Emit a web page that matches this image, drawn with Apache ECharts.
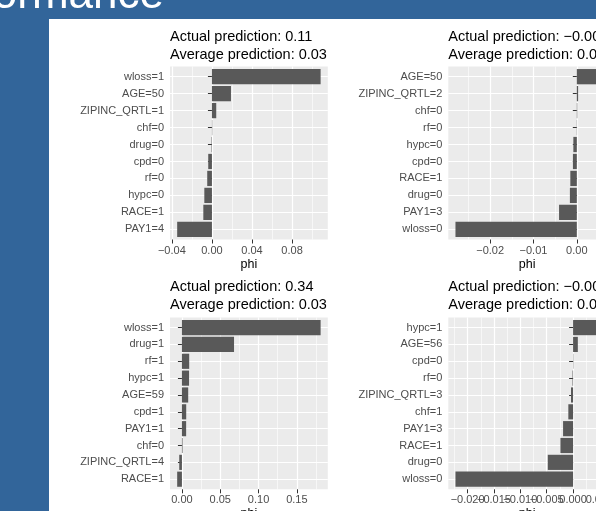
<!DOCTYPE html>
<html><head><meta charset="utf-8">
<script src="https://cdn.jsdelivr.net/npm/echarts@6/dist/echarts.min.js"></script>
<style>html,body{margin:0;padding:0;background:#32659A;}#c{width:596px;height:511px;}</style>
</head><body><div id="c"></div>
<script>
// ---- data ----
const titles1 = ['Actual prediction: 0.11', 'Average prediction: 0.03'];
const cats1 = ['wloss=1','AGE=50','ZIPINC_QRTL=1','chf=0','drug=0','cpd=0','rf=0','hypc=0','RACE=1','PAY1=4'];
const vals1 = [0.1085, 0.019, 0.0043, 0.0003, -0.0004, -0.0037, -0.0047, -0.0076, -0.0086, -0.0347];
const ticks1 = ['\u22120.04','0.00','0.04','0.08'];

const titles2 = ['Actual prediction: \u22120.00', 'Average prediction: 0.03'];
const cats2 = ['AGE=50','ZIPINC_QRTL=2','chf=0','rf=0','hypc=0','cpd=0','RACE=1','drug=0','PAY1=3','wloss=0'];
const vals2 = [0.0051, 0.0003, 0.0001, 0.00005, -0.0008, -0.0009, -0.0015, -0.0016, -0.0041, -0.0280];
const ticks2 = ['\u22120.02','\u22120.01','0.00'];

const titles3 = ['Actual prediction: 0.34', 'Average prediction: 0.03'];
const cats3 = ['wloss=1','drug=1','rf=1','hypc=1','AGE=59','cpd=1','PAY1=1','chf=0','ZIPINC_QRTL=4','RACE=1'];
const vals3 = [0.181, 0.068, 0.0095, 0.0093, 0.0082, 0.0056, 0.0055, 0.0008, -0.0035, -0.0062];
const ticks3 = ['0.00','0.05','0.10','0.15'];

const titles4 = ['Actual prediction: \u22120.00', 'Average prediction: 0.03'];
const cats4 = ['hypc=1','AGE=56','cpd=0','rf=0','ZIPINC_QRTL=3','chf=1','PAY1=3','RACE=1','drug=0','wloss=0'];
const vals4 = [0.0049, 0.0009, 0.00005, -0.0001, -0.0004, -0.0009, -0.0019, -0.0024, -0.0048, -0.0223];
const ticks4 = ['\u22120.020','\u22120.015','\u22120.010','\u22120.005','0.000','0.005'];

const xName = 'phi';
const slideTitle = 'Performance';

// ---- layout ----
const FONT = "'Liberation Sans', Arial, Helvetica, sans-serif";
const colLeft = [170, 448.3];
const panelW = 157.8;
const rows = [{top: 66.5, bottom: 239.5, titleTop: 28.6}, {top: 317.5, bottom: 489.3, titleTop: 278.8}];
const BAR = '#595959', PANEL = '#EBEBEB', AXTXT = '#4D4D4D';

const option = {
  animation: false,
  backgroundColor: '#32659A',
  title: [], grid: [], xAxis: [], yAxis: [], series: [],
  graphic: [
    {type: 'rect', shape: {x: 49, y: 19, width: 547, height: 492}, style: {fill: '#ffffff'}, z: -10, silent: true},
    {type: 'text', x: 164, y: -4.3, z: -9, silent: true,
     style: {text: slideTitle, fill: '#ffffff', font: '44px ' + FONT, align: 'right', verticalAlign: 'middle'}}
  ]
};

function num(s) { return parseFloat(s.replace('\u2212', '-')); }
function r(v) { return +v.toFixed(10); }

function addPanel(titles, cats, vals, ticks, col, row) {
  const L = colLeft[col], R = rows[row];
  const H = R.bottom - R.top;
  const band = H / (cats.length + 0.2);
  const lo = Math.min(0, ...vals), hi = Math.max(0, ...vals);
  const pad = 0.05 * (hi - lo);
  const xmin = lo - pad, xmax = hi + pad;
  const px = v => L + (v - xmin) / (xmax - xmin) * panelW;
  const tv = ticks.map(num);
  const step = r(tv[1] - tv[0]);
  const mstep = r(step / 2);
  const mfirst = r(Math.ceil(xmin / mstep - 1e-9) * mstep);
  const mlast = r(Math.floor(xmax / mstep + 1e-9) * mstep);

  option.title.push({
    text: titles.join('\n'), left: L, top: R.titleTop, padding: 0,
    textStyle: {fontSize: 14.5, fontWeight: 'normal', color: '#000', fontFamily: FONT, lineHeight: 17.3}
  });

  const gBase = option.grid.length;
  // A: panel background + axis name
  option.grid.push({left: L, top: R.top, width: panelW, height: H, show: true, backgroundColor: PANEL, borderWidth: 0, containLabel: false, outerBoundsMode: 'none'});
  // C: minor vertical grid lines
  option.grid.push({left: px(mfirst), top: R.top, width: px(mlast) - px(mfirst), height: H, containLabel: false, outerBoundsMode: 'none'});
  // D: major vertical grid lines, ticks and labels (tick labels as points)
  option.grid.push({left: px(tv[0]), top: R.top, width: px(tv[tv.length - 1]) - px(tv[0]), height: H, containLabel: false, outerBoundsMode: 'none'});
  // B: data, categories at band centres
  option.grid.push({left: L, top: R.top + 0.6 * band, width: panelW, height: band * (cats.length - 1), containLabel: false, outerBoundsMode: 'none'});

  const hiddenY = gi => ({type: 'value', gridIndex: gi, show: false});
  const xa = option.xAxis, ya = option.yAxis;

  xa.push({type: 'value', gridIndex: gBase, min: xmin, max: xmax, show: true,
    axisLine: {show: false}, axisTick: {show: false}, axisLabel: {show: false}, splitLine: {show: false},
    name: xName, nameLocation: 'middle', nameGap: 18.2,
    nameTextStyle: {fontSize: 12.5, color: '#000', fontFamily: FONT}});
  ya.push(hiddenY(gBase));

  xa.push({type: 'value', gridIndex: gBase + 1, min: mfirst, max: mlast, interval: mstep, show: true,
    axisLine: {show: false}, axisTick: {show: false}, axisLabel: {show: false},
    splitLine: {show: true, lineStyle: {color: '#ffffff', width: 0.6}}});
  ya.push(hiddenY(gBase + 1));

  xa.push({type: 'category', gridIndex: gBase + 2, data: ticks, boundaryGap: false, show: true,
    axisLine: {show: false},
    axisTick: {show: true, length: 4, interval: 0, lineStyle: {color: '#333333', width: 1}},
    axisLabel: {show: true, interval: 0, margin: 5.5, fontSize: 11, color: AXTXT, fontFamily: FONT,
      showMinLabel: true, showMaxLabel: true, hideOverlap: false},
    splitLine: {show: true, interval: 0, lineStyle: {color: '#ffffff', width: 1.2}}});
  ya.push(hiddenY(gBase + 2));

  const xB = xa.length;
  xa.push({type: 'value', gridIndex: gBase + 3, min: xmin, max: xmax, show: false});
  const yB = ya.length;
  ya.push({type: 'category', gridIndex: gBase + 3, data: cats, inverse: true, boundaryGap: false,
    axisLine: {show: false},
    axisTick: {show: true, length: 4, interval: 0, lineStyle: {color: '#333333', width: 1}},
    axisLabel: {show: true, interval: 0, margin: 6, fontSize: 11, color: AXTXT, fontFamily: FONT},
    splitLine: {show: true, interval: 0, lineStyle: {color: '#ffffff', width: 1.2}}});

  option.series.push({type: 'bar', xAxisIndex: xB, yAxisIndex: yB, data: vals, barWidth: '90%',
    itemStyle: {color: BAR}, clip: false, silent: true});
}

addPanel(titles1, cats1, vals1, ticks1, 0, 0);
addPanel(titles2, cats2, vals2, ticks2, 1, 0);
addPanel(titles3, cats3, vals3, ticks3, 0, 1);
addPanel(titles4, cats4, vals4, ticks4, 1, 1);

const chart = echarts.init(document.getElementById('c'), null, {renderer: 'canvas'});
chart.setOption(option);
</script></body></html>
